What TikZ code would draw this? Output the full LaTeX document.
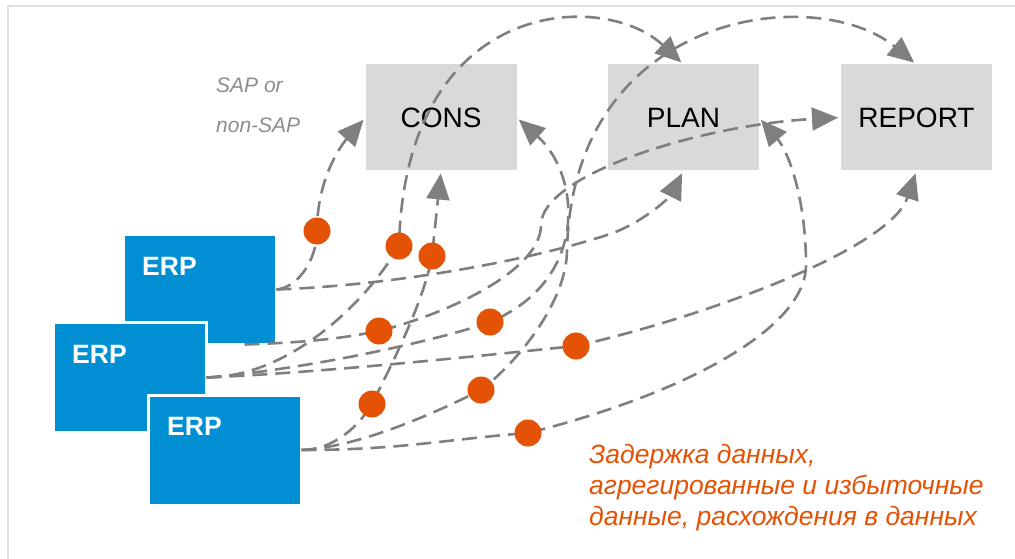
\documentclass[tikz,border=0pt]{standalone}
\usepackage{fontspec}
\setmainfont{Liberation Sans}
\usetikzlibrary{arrows.meta}
\definecolor{boxgray}{HTML}{D9D9D9}
\definecolor{erpblue}{HTML}{008FD3}
\definecolor{linegray}{HTML}{7F7F7F}
\definecolor{dotorange}{HTML}{E35205}
\definecolor{framegray}{HTML}{E0E0E0}
\definecolor{sapgray}{HTML}{8C8C8C}
\tikzset{
  sysbox/.style={fill=boxgray, minimum width=151pt, minimum height=106pt, inner sep=0pt, outer sep=0pt, font=\fontsize{28}{32}\selectfont},
  erpbox/.style={fill=erpblue, draw=white, line width=3pt, minimum width=153pt, minimum height=110pt, outer sep=0pt},
  erplabel/.style={anchor=north west, inner sep=0pt, text=white, font=\fontsize{26.5}{30}\selectfont\bfseries},
  saptext/.style={anchor=base west, inner sep=0pt, text=sapgray, font=\fontsize{21}{25}\selectfont\itshape},
  notetext/.style={anchor=north west, align=left, inner sep=0pt, text=dotorange, font=\fontsize{26.5}{31}\selectfont\itshape},
  flow/.style={draw=linegray, line width=2.6pt, dash pattern=on 15pt off 8pt, -{Triangle[length=26pt,width=23pt]}, shorten >=3pt},
  delaydot/.style={circle, fill=dotorange, minimum size=27pt, inner sep=0pt}
}
\begin{document}
\begin{tikzpicture}[x=1pt,y=-1pt]
  \useasboundingbox (0,0) rectangle (1015,559);
  \draw[framegray, line width=2pt] (8,559) -- (8,6) -- (1015,6);

  \node[sysbox] (cons) at (441,117.5) {CONS};
  \node[sysbox] (plan) at (683.5,117.5) {PLAN};
  \node[sysbox] (report) at (916.5,117.5) {REPORT};
  \node[saptext] (sapor) at (216,93) {SAP or};
  \node[saptext] (nonsap) at (216,133) {non-SAP};

  \node[erpbox] (erpA) at (200,289.5) {};
  \node[erplabel] (erpAtext) at ([shift={(18.5,22.5)}]erpA.north west) {ERP};
  \node[erpbox] (erpB) at (130,377.5) {};
  \node[erplabel] (erpBtext) at ([shift={(18.5,22.5)}]erpB.north west) {ERP};
  \node[erpbox] (erpC) at (225,450) {};
  \node[erplabel] (erpCtext) at ([shift={(18.5,22.5)}]erpC.north west) {ERP};

  \coordinate (d1) at (317,231);
  \coordinate (d2) at (399,246);
  \coordinate (d3) at (432,256);
  \coordinate (d4) at (379,331);
  \coordinate (d5) at (490,322);
  \coordinate (d6) at (576,346);
  \coordinate (d7) at (372,404);
  \coordinate (d8) at (481,390);
  \coordinate (d9) at (528,433);

  \draw[flow] (erpA.east) .. controls +(22,-2) and +(0,28) .. (d1)
    .. controls +(0,-55) and +(-22,25) .. (cons.west);
  \draw[flow] (erpA.east) .. controls +(125,-4.5) and +(-73,25) .. (613,233)
    .. controls +(36,-14) and +(-12,24) .. (plan.south);
  \draw[flow] (erpA.-51) .. controls +(60,-2) and +(-40,8) .. (d4)
    .. controls +(71,-18) and +(0,45) .. (541,225)
    .. controls +(0,-50) and +(-141,7.5) .. (report.west);

  \draw[flow] (erpB.east) .. controls +(80,0) and +(-35,60) .. (d2)
    .. controls +(6,-250) and +(-80,-75) .. (plan.north);
  \draw[flow] (erpB.east) .. controls +(100,-8) and +(-50,18) .. (d5)
    .. controls +(100,-42) and +(64,57.5) .. (cons.east);
  \draw[flow] (erpB.east) .. controls +(120,-5) and +(-80,8) .. (d6)
    .. controls +(124,-28) and +(-26.5,79.5) .. (report.south);

  \draw[flow] (erpC.east) .. controls +(30,0) and +(-15,25) .. (d7)
    .. controls +(20,-40) and +(-8,45) .. (d3) -- (cons.south);
  \draw[flow] (erpC.east) .. controls +(60,-3) and +(-40,20) .. (d8)
    .. controls +(39,-30) and +(0,50) .. (567,250)
    .. controls +(6,-240) and +(-100,-82) .. (report.north);
  \draw[flow] (erpC.east) .. controls +(100,0) and +(-80,6) .. (d9)
    .. controls +(152,-38) and +(0,65) .. (806,265)
    .. controls +(0,-65) and +(30,35) .. (plan.east);

  \foreach \i in {1,...,9}
    \node[delaydot] (dot\i) at (d\i) {};

  \node[notetext] (delaynote) at (589,444) {Задержка данных,\\агрегированные и избыточные\\данные, расхождения в данных};
\end{tikzpicture}
\end{document}
